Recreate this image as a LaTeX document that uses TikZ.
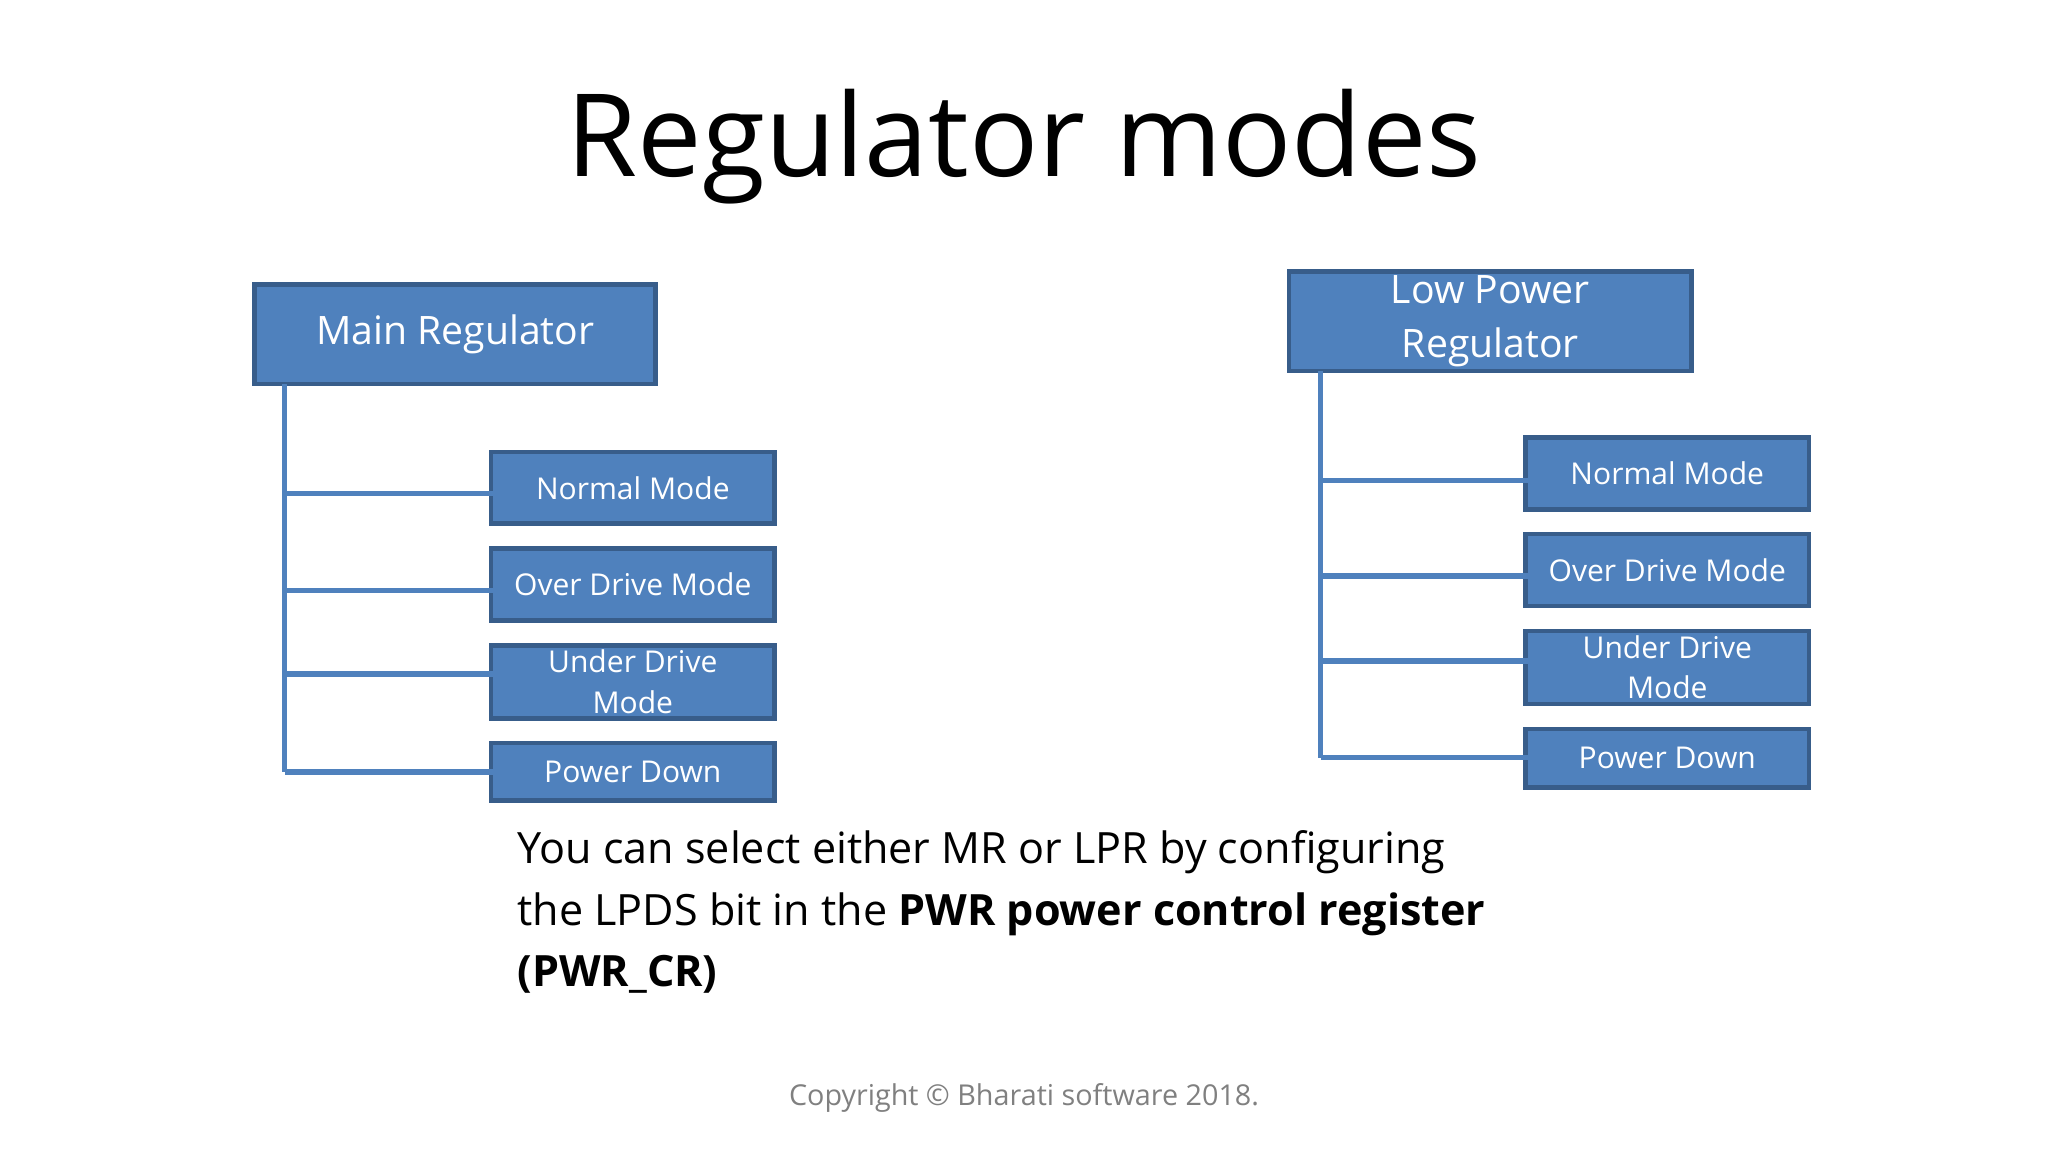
\documentclass[tikz,border=0pt]{standalone}
\usepackage{fontspec}
\setmainfont{Open Sans}
\begin{document}
\begin{tikzpicture}[x=1pt,y=-1pt,
  bx/.style={draw=bord,fill=blu,line width=3.5pt,text=white,align=center,inner sep=0pt},
  ln/.style={draw=blu,line width=4pt}]
\definecolor{blu}{HTML}{4F81BD}
\definecolor{bord}{HTML}{385D8A}
\useasboundingbox[fill=white] (0,0) rectangle (1568,882);
\node (title) at (784,112) {\fontsize{88}{100}\selectfont Regulator modes};
% left
\node[bx,minimum width=307pt,minimum height=76pt,font=\fontsize{30}{36}\selectfont] (mr) at (348.5,256) {Main Regulator};
\foreach \n/\y/\h/\t in {a/373.5/55/Normal Mode,b/447.5/55/Over Drive Mode,c/522/56/{Under Drive\\Mode},d/591/44/Power Down}{
  \node[bx,minimum width=217pt,minimum height=\h pt,font=\fontsize{23}{31}\selectfont] (l\n) at (484.5,\y) {\t};}
\coordinate (lt) at (218,294);
\coordinate (lb) at (218,591);
\draw[ln] (lt) -- (lb);
\draw[ln] (218,378) -- (378,378) (218,452) -- (378,452) (218,516) -- (378,516) (lb) -- (378,591);
% right
\node[bx,minimum width=308pt,minimum height=76pt,font=\fontsize{30}{41}\selectfont] (lpr) at (1141,246) {Low Power\\Regulator};
\foreach \n/\y/\h/\t in {a/362.5/55/Normal Mode,b/436.5/55/Over Drive Mode,c/511/56/{Under Drive\\Mode},d/580.5/45/Power Down}{
  \node[bx,minimum width=217pt,minimum height=\h pt,font=\fontsize{23}{31}\selectfont] (r\n) at (1276.5,\y) {\t};}
\coordinate (rt) at (1011,284);
\coordinate (rb) at (1011,580);
\draw[ln] (rt) -- (rb);
\draw[ln] (1011,368) -- (1170,368) (1011,441) -- (1170,441) (1011,506) -- (1170,506) (rb) -- (1170,580);
\node[anchor=north west,align=left,inner sep=0pt,font=\fontsize{33}{47}\selectfont] (txt) at (396,636) {You can select either MR or LPR by configuring\\the LPDS bit in the \textbf{PWR power control register}\\\textbf{(PWR\_CR)}};
\node[text=gray,font=\fontsize{22}{26}\selectfont] (copy) at (784,841) {Copyright © Bharati software 2018.};
\end{tikzpicture}
\end{document}
